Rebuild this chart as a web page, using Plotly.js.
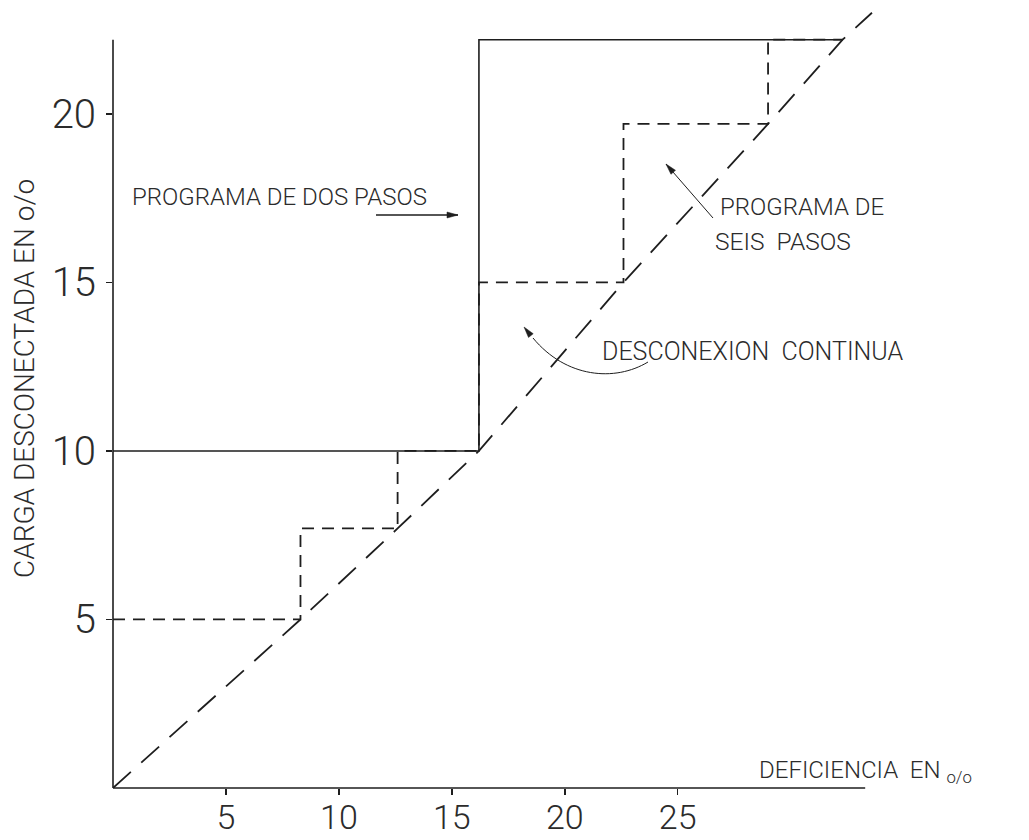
<!DOCTYPE html>
<html>
<head>
<meta charset="utf-8">
<script src="https://cdn.plot.ly/plotly-3.0.1.min.js"></script>
<style>
html, body { margin: 0; padding: 0; background: #ffffff; }
#chart { width: 1029px; height: 840px; }
</style>
</head>
<body>
<div id="chart"></div>
<script>
// ---- Data (values in %) ----
const seisPasosDeficiencia = [0, 8.3, 12.6, 16.2, 22.6, 29.0, 32.3];
const seisPasosCarga       = [5, 7.7, 10, 15, 19.7, 22.2, 22.2];
const dosPasosDeficiencia  = [0, 16.2, 32.3];
const dosPasosCarga        = [10, 22.2, 22.2];
const continuaDeficiencia  = [0, 8.3, 12.6, 16.2, 22.6, 29.0, 32.3, 33.6];
const continuaCarga        = [0, 5, 7.7, 10, 15, 19.7, 22.2, 23.0];
const xTickVals = [5, 10, 15, 20, 25];
const yTickVals = [5, 10, 15, 20];

// ---- Layout geometry ----
const W = 1029, H = 840, L = 113, R = 148, T = 6, B = 52;
const xRange = [0, 34], yRange = [0, 23.2];
const xAxisEnd = 33.3, yAxisEnd = 22.2;
const plotW = W - L - R, plotH = H - T - B;
const PX = p => (p - L) / plotW;          // pixel -> paper x
const PY = p => (H - B - p) / plotH;      // pixel -> paper y
const fx = v => (v - xRange[0]) / (xRange[1] - xRange[0]);
const fy = v => (v - yRange[0]) / (yRange[1] - yRange[0]);

const ink = '#1e1e1e';
const txt = '#2b2b2b';
const FONT = 'Roboto, "DejaVu Sans", sans-serif';

const traces = [
  {
    name: 'Desconexión continua',
    x: continuaDeficiencia, y: continuaCarga,
    mode: 'lines', hoverinfo: 'skip',
    line: { color: ink, width: 1.8, dash: '24px,14px' }
  },
  {
    name: 'Programa de seis pasos',
    x: seisPasosDeficiencia, y: seisPasosCarga,
    mode: 'lines', hoverinfo: 'skip',
    line: { color: ink, width: 1.8, dash: '12px,8px', shape: 'hv' }
  },
  {
    name: 'Programa de dos pasos',
    x: dosPasosDeficiencia, y: dosPasosCarga,
    mode: 'lines', hoverinfo: 'skip',
    line: { color: ink, width: 1.6, shape: 'hv' }
  }
];

function ann(text, px, py, size, extra) {
  return Object.assign({
    text: text, xref: 'paper', yref: 'paper', x: PX(px), y: PY(py),
    xanchor: 'left', yanchor: 'middle', showarrow: false,
    font: { family: FONT, size: size, color: txt, weight: 300 }
  }, extra || {});
}

// arrow drawn as shapes: shaft line + filled triangular head (pixel inputs)
function arrowHead(hx, hy, fromx, fromy, len, half) {
  const dx = hx - fromx, dy = hy - fromy, d = Math.hypot(dx, dy);
  const ux = dx / d, uy = dy / d;
  const bx = hx - ux * len, by = hy - uy * len;
  const p1x = bx - uy * half, p1y = by + ux * half;
  const p2x = bx + uy * half, p2y = by - ux * half;
  return { type: 'path', xref: 'paper', yref: 'paper',
    path: 'M ' + PX(hx) + ',' + PY(hy) + ' L ' + PX(p1x) + ',' + PY(p1y) +
          ' L ' + PX(p2x) + ',' + PY(p2y) + ' Z',
    fillcolor: ink, line: { color: ink, width: 0.5 } };
}
function arrowShapes(hx, hy, tx, ty, w) {
  return [
    { type: 'line', xref: 'paper', yref: 'paper',
      x0: PX(tx), y0: PY(ty), x1: PX(hx), y1: PY(hy), line: { color: ink, width: w } },
    arrowHead(hx, hy, tx, ty, 11, 3)
  ];
}

const annotations = [
  ann('PROGRAMA DE DOS PASOS', 130, 197, 24),
  ann('PROGRAMA DE', 718, 207, 24),
  ann('SEIS  PASOS', 713, 241, 24.5),
  ann('DESCONEXION  CONTINUA', 600, 351, 25),
  ann('DEFICIENCIA  EN <sub>o/o</sub>', 757, 771, 24),
  ann('CARGA DESCONECTADA EN o/o', 24, 379, 28,
      { xanchor: 'center', yanchor: 'middle', textangle: -90 })
];

// curved arrow shaft (pixel points converted to paper)
const curve = 'M ' + PX(648) + ',' + PY(362) +
              ' C ' + PX(615) + ',' + PY(382) + ' ' + PX(566) + ',' + PY(378) + ' ' + PX(533) + ',' + PY(338);

const shapes = [
  { type: 'line', xref: 'paper', yref: 'paper', x0: fx(0), y0: fy(0), x1: fx(xAxisEnd), y1: fy(0),
    line: { color: ink, width: 1.6 } },
  { type: 'line', xref: 'paper', yref: 'paper', x0: fx(0), y0: fy(0), x1: fx(0), y1: fy(yAxisEnd),
    line: { color: ink, width: 1.6 } },
  { type: 'path', xref: 'paper', yref: 'paper', path: curve,
    line: { color: ink, width: 1.0 } },
  arrowHead(524, 327, 536, 342, 11, 3)
].concat(
  arrowShapes(458, 215, 376, 215, 1.3),
  arrowShapes(666, 164, 713, 218, 1.0)
);

const layout = {
  width: W, height: H,
  margin: { l: L, r: R, t: T, b: B, pad: 0 },
  paper_bgcolor: '#ffffff', plot_bgcolor: '#ffffff',
  showlegend: false,
  xaxis: {
    range: xRange, showgrid: false, zeroline: false, showline: false,
    tickmode: 'array', tickvals: xTickVals, ticktext: xTickVals.map(String),
    ticks: 'outside', ticklen: 6, tickwidth: 1.5, tickcolor: ink,
    tickfont: { family: FONT, size: 34, color: txt, weight: 300 },
    ticklabelstandoff: -7, automargin: false, fixedrange: true
  },
  yaxis: {
    range: yRange, showgrid: false, zeroline: false, showline: false,
    tickmode: 'array', tickvals: yTickVals, ticktext: yTickVals.map(String),
    ticks: 'outside', ticklen: 6, tickwidth: 1.5, tickcolor: ink,
    tickfont: { family: FONT, size: 40, color: txt, weight: 300 },
    ticklabelstandoff: 2, automargin: false, fixedrange: true
  },
  annotations: annotations,
  shapes: shapes
};

Plotly.newPlot('chart', traces, layout, { displayModeBar: false, staticPlot: true });
</script>
</body>
</html>
